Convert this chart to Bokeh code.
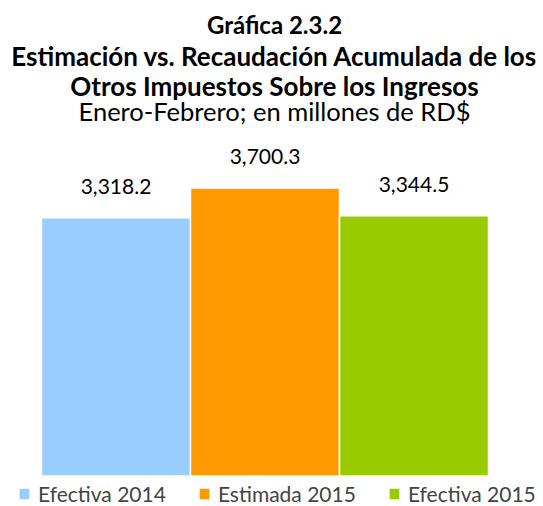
from bokeh.plotting import figure
from bokeh.models import Range1d, Label, Legend, LegendItem, ColumnDataSource
from bokeh.core.properties import value
from bokeh.embed import file_html
from bokeh.resources import INLINE

# ---- data ----
categories = ["Efectiva 2014", "Estimada 2015", "Efectiva 2015"]
values = [3318.2, 3700.3, 3344.5]
colors = ["#99CCFF", "#FF9900", "#99CC00"]
title_lines = ["Gráfica 2.3.2",
               "Estimación vs. Recaudación Acumulada de los",
               "Otros Impuestos Sobre los Ingresos"]
subtitle = "Enero-Febrero; en millones de RD$"

W, H = 543, 506
FONT = "Lato"

src = ColumnDataSource(dict(
    x=list(range(len(categories))),
    top=values,
    color=colors,
    label=[f"{v:,.1f}" for v in values],
    name=categories,
))

p = figure(width=W, height=H, output_backend="svg", toolbar_location=None,
           x_range=Range1d(-0.7752, 2.8691), y_range=Range1d(-392, 6109),
           min_border=0, min_border_left=0, min_border_right=0,
           min_border_top=0, min_border_bottom=0)
p.axis.visible = False
p.grid.visible = False
p.outline_line_color = None
p.background_fill_color = "white"
p.border_fill_color = "white"

r = p.vbar(x="x", top="top", bottom=0, width=1.0, fill_color="color",
           line_color="white", line_width=1.5, source=src)

p.text(x="x", y="top", text="label", source=src, text_align="center",
       text_baseline="alphabetic", y_offset=-31, text_font=value(FONT),
       text_font_size="21px", text_color="black")

# titles (screen units relative to the frame's bottom-left)
cx = 274
ys = [482, 451, 421]
sizes = ["24px", "26px", "26px"]
for t, yy, fs in zip(title_lines, ys, sizes):
    p.add_layout(Label(x=cx, y=yy, x_units="screen", y_units="screen", text=t,
                       text_align="center", text_baseline="alphabetic",
                       text_font=FONT, text_font_style="bold",
                       text_font_size=fs, text_color="black"))
p.add_layout(Label(x=cx, y=396, x_units="screen", y_units="screen", text=subtitle,
                   text_align="center", text_baseline="alphabetic",
                   text_font=FONT, text_font_size="25.5px", text_color="black"))

items = [LegendItem(label=c, renderers=[r], index=i) for i, c in enumerate(categories)]
legend = Legend(items=items, orientation="horizontal", location=(17, 0),
                glyph_width=14, glyph_height=15, label_standoff=7, spacing=31,
                padding=0, margin=0, label_height=22,
                label_text_font=FONT, label_text_font_size="21px",
                background_fill_alpha=0, border_line_color=None)
p.add_layout(legend, "center")

open("out.html", "w").write(file_html(p, INLINE))
